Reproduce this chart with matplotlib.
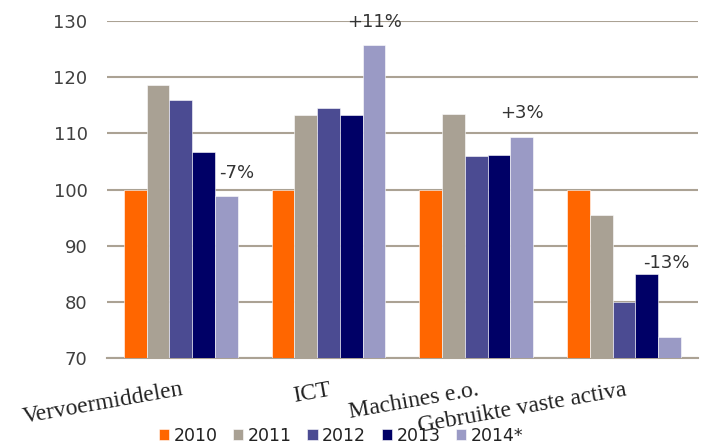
import numpy as np
import matplotlib
matplotlib.use("Agg")
import matplotlib.pyplot as plt

# Index (2010 = 100) per soort investering
categories = ["Vervoermiddelen", "ICT", "Machines e.o.", "Gebruikte vaste activa"]
years = ["2010", "2011", "2012", "2013", "2014*"]
v2010 = [100, 100, 100, 100]
v2011 = [118.5, 113.2, 113.5, 95.4]
v2012 = [115.9, 114.5, 105.9, 80.0]
v2013 = [106.6, 113.2, 106.1, 84.9]
v2014 = [98.9, 125.6, 109.4, 73.8]
colors = ["#FF6600", "#A9A194", "#4B4B92", "#000066", "#9A9AC5"]

# plaats van de procentlabels (x-verschuiving t.o.v. de 2014-staaf, hoogte)
label_dx = [0.07, 0.0, 0.0, -0.02]
label_y = [102.9, 129.8, 113.6, 86.9]

series = [v2010, v2011, v2012, v2013, v2014]

plt.rcParams['font.family'] = ['DejaVu Sans']
fig = plt.figure(figsize=(7.1, 4.48), dpi=100)
ax = fig.add_axes([0.1507, 0.2002, 0.8323, 0.7536])

x = np.arange(len(categories))
w = 0.154
for k, (vals, c, lab) in enumerate(zip(series, colors, years)):
    ax.bar(x + (k - 2) * w, vals, w, color=c, label=lab, zorder=3,
           edgecolor="white", linewidth=0.4)

# verandering 2014 t.o.v. 2013
for i in range(len(categories)):
    pct = round((v2014[i] / v2013[i] - 1) * 100)
    txt = f"+{pct}%" if pct > 0 else f"-{abs(pct)}%"
    ax.text(x[i] + 2 * w + label_dx[i], label_y[i], txt, ha="center", va="center",
            fontsize=13, color="#333333", zorder=4)

ax.set_xlim(-0.5, len(categories) - 0.5)
ax.set_ylim(70, 130)
ax.set_yticks(range(70, 131, 10))
ax.yaxis.grid(True, color="#ABA294", linewidth=1.5, zorder=0)
for s in ["top", "right", "left"]:
    ax.spines[s].set_visible(False)
ax.spines["bottom"].set_color("#ABA294")
ax.spines["bottom"].set_linewidth(1.5)
ax.tick_params(axis="both", length=0, labelsize=13, colors="#404040")
ax.tick_params(axis="y", pad=14)

ax.set_xticks(x)
ax.set_xticklabels(categories, rotation=10, ha="right", rotation_mode="anchor",
                   family=["Liberation Serif", "DejaVu Serif"], fontsize=17,
                   color="#222222")
ax.tick_params(axis="x", pad=15)

fig.legend(loc="center", bbox_to_anchor=(341 / 710, 1 - 436 / 448), ncol=5,
           frameon=False, fontsize=12.5, handlelength=0.6, handleheight=0.6,
           handletextpad=0.25, columnspacing=0.9, borderaxespad=0,
           labelcolor="#222222")

fig.savefig("out.png", dpi=100)
